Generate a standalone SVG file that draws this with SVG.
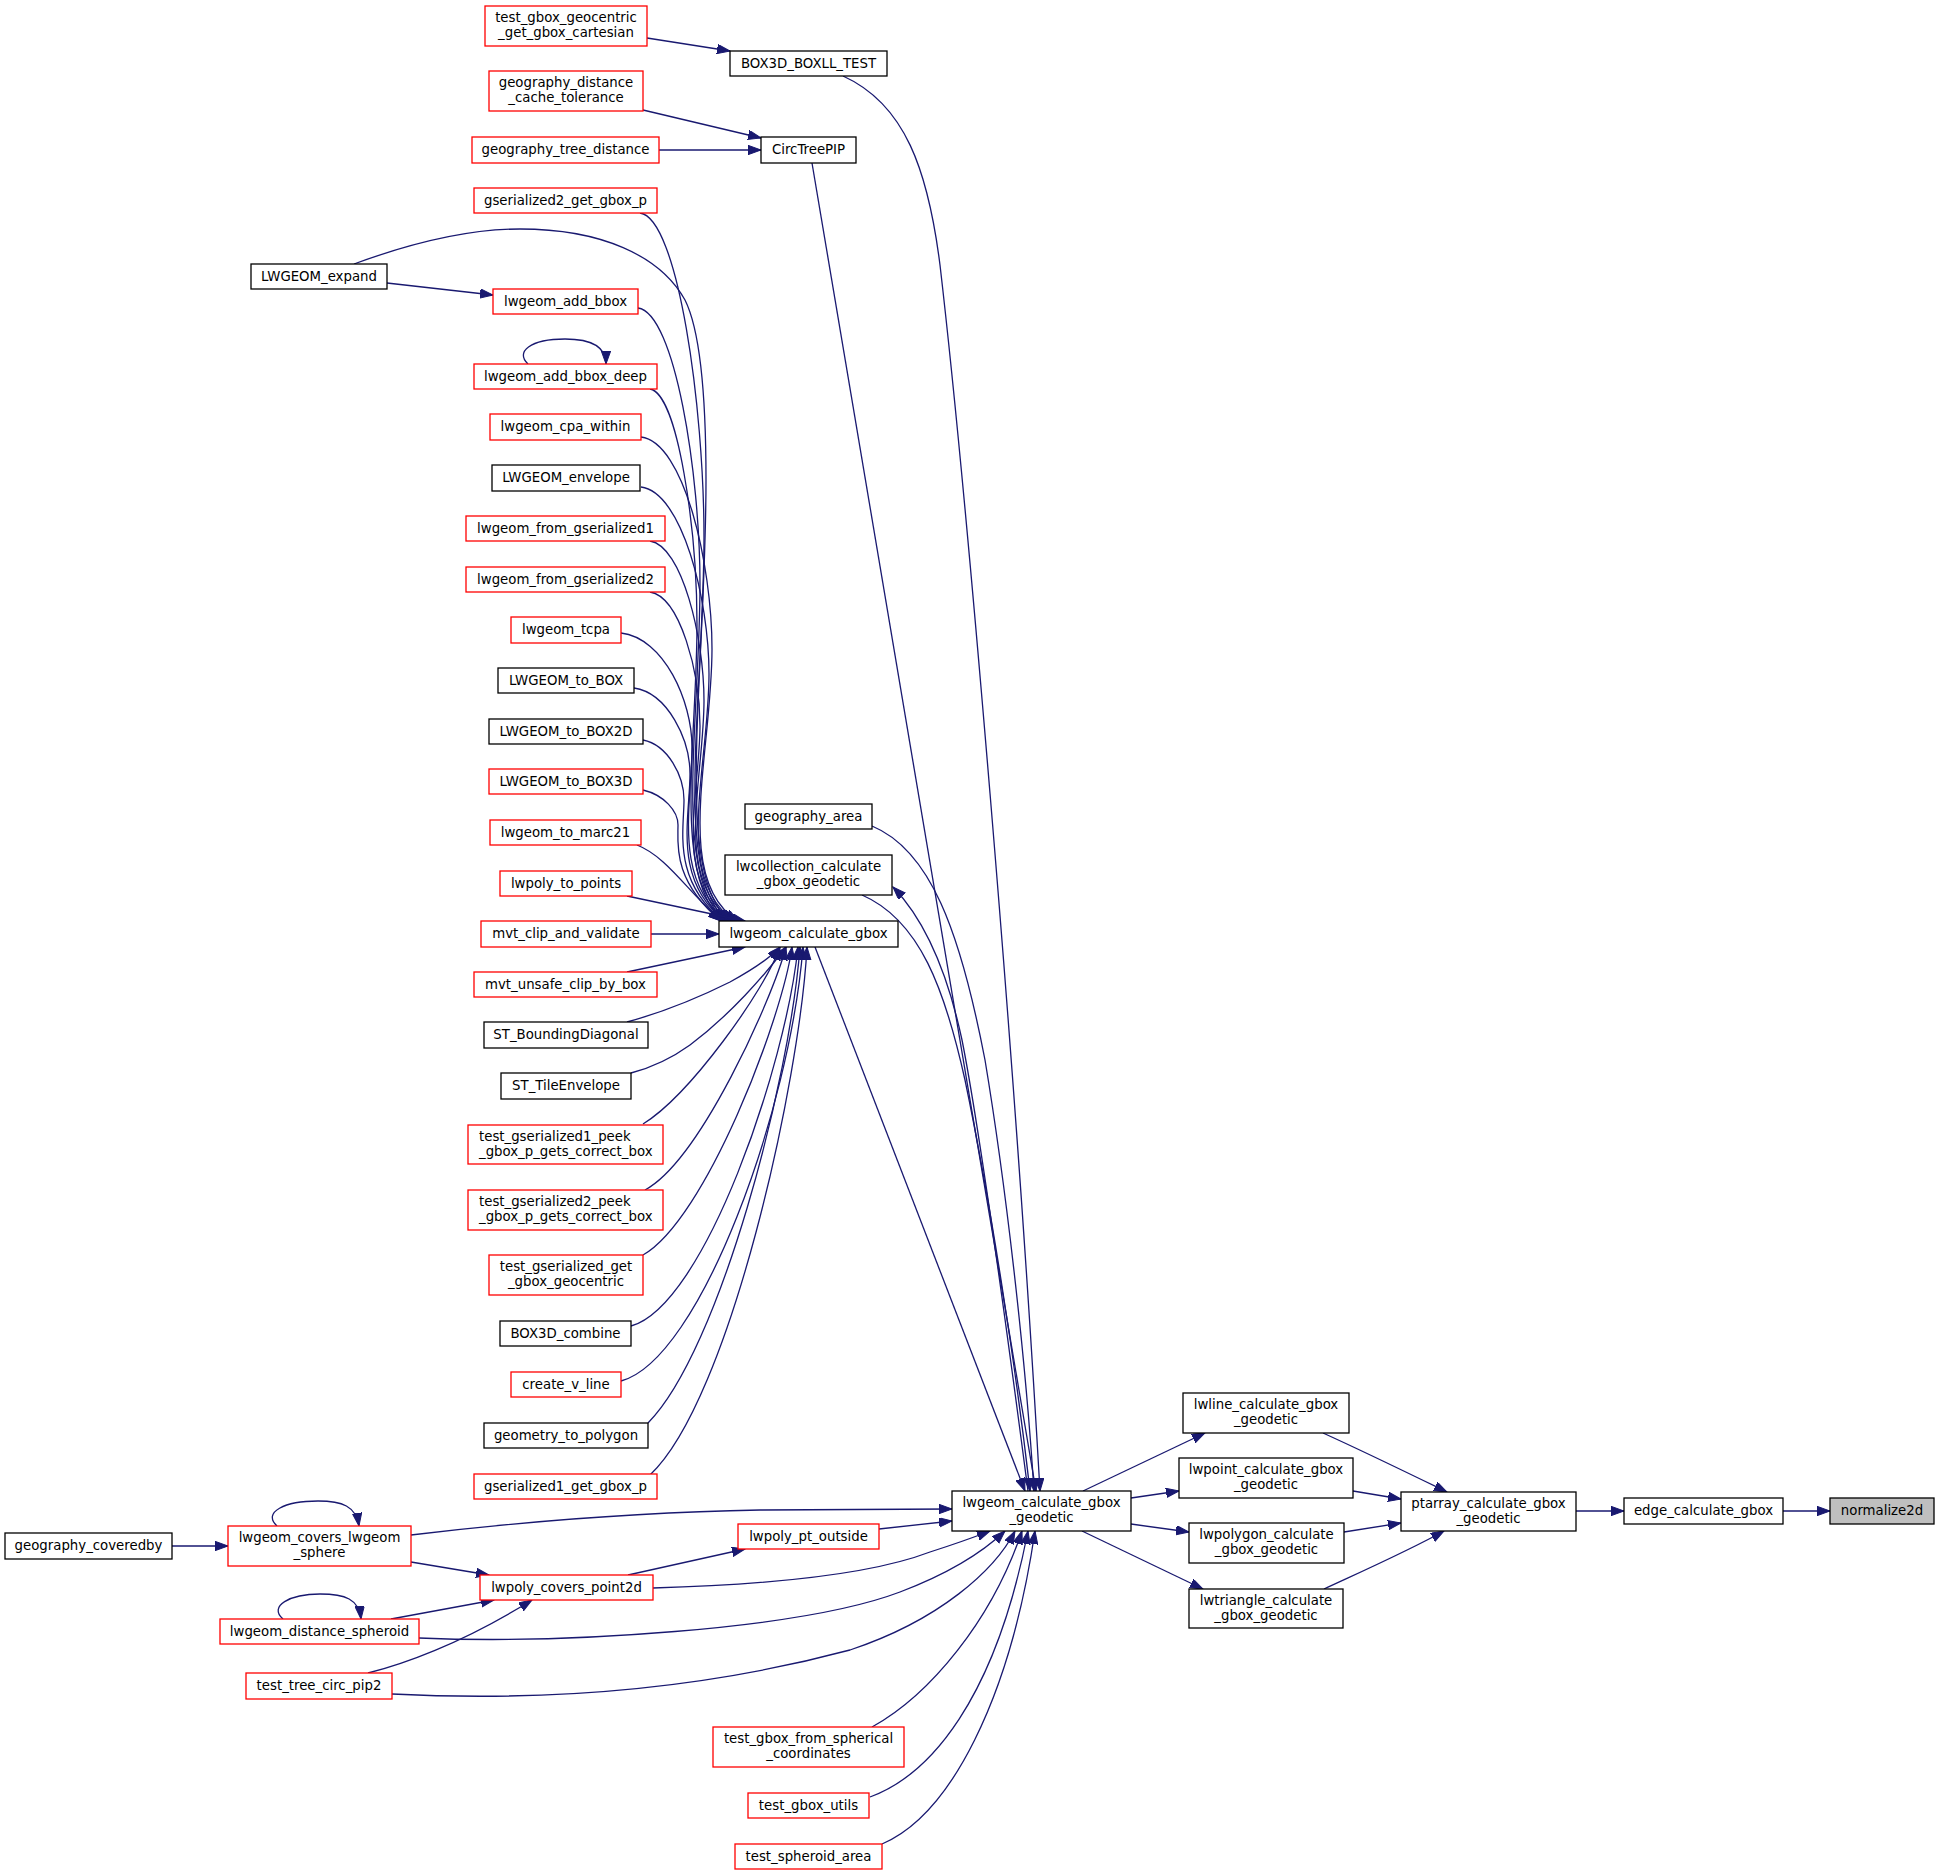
<svg xmlns="http://www.w3.org/2000/svg" width="1939" height="1875" viewBox="0 0 1939 1875">
<defs>
<marker id="a" markerUnits="userSpaceOnUse" markerWidth="14" markerHeight="10" refX="13" refY="4.7" orient="auto">
<path d="M0,0 L13,4.7 L0,9.4 z" fill="#191970" stroke="#191970" stroke-width="1"/>
</marker>
<style>
rect{fill:#fff;stroke:#000;stroke-width:1.3}
.r rect{stroke:#f00}
.g rect{fill:#bfbfbf}
text{font-family:"DejaVu Sans","Liberation Sans",sans-serif;font-size:13.3px;fill:#000;text-anchor:middle}
.e path{fill:none;stroke:#191970;stroke-width:1.3;marker-end:url(#a)}
</style>
</defs>
<rect x="0" y="0" width="1939" height="1875" style="fill:#fff;stroke:none"/>
<g class="e" id="edges">
<path d="M1783,1511 L1830,1511"/>
<path d="M1576,1511 L1624,1511"/>
<path d="M1323,1433 C1365,1452 1410,1474 1447,1492"/>
<path d="M1353,1491 L1401,1499"/>
<path d="M1344,1532 L1401,1523"/>
<path d="M1324,1589 C1365,1570 1410,1550 1444,1531"/>
<path d="M1083,1491 L1205,1433"/>
<path d="M1131,1498 L1179,1491"/>
<path d="M1131,1524 L1189,1532"/>
<path d="M1082,1531 L1203,1589"/>
<path d="M815,947 L1025,1491"/>
<path d="M812,163 L1036,1491"/>
<path d="M843,76 C905,104 928,170 940,265 C965,480 1015,1050 1040,1491"/>
<path d="M872,826 C930,850 960,930 985,1060 C1005,1180 1025,1350 1034,1491"/>
<path d="M862,895 C920,920 945,990 965,1080 C990,1200 1015,1360 1030,1491"/>
<path d="M1028,1491 C1003,1300 978,1120 962,1040 C947,970 925,920 893,887"/>
<path d="M411,1535 C520,1522 640,1512 760,1510 C840,1509 900,1509 952,1509"/>
<path d="M879,1529 L952,1521"/>
<path d="M628,1575 L745,1549"/>
<path d="M653,1588 C760,1585 870,1575 930,1552 C955,1544 972,1538 990,1531"/>
<path d="M419,1638 C560,1644 800,1630 900,1592 C950,1573 985,1550 1005,1531"/>
<path d="M392,1694 C550,1702 700,1690 850,1650 C940,1620 995,1570 1015,1531"/>
<path d="M872,1727 C930,1695 992,1620 1022,1531"/>
<path d="M870,1797 C930,1775 995,1700 1028,1531"/>
<path d="M882,1844 C950,1815 1010,1700 1035,1531"/>
<path d="M368,1673 C400,1665 460,1645 532,1600"/>
<path d="M391,1619 L494,1600"/>
<path d="M411,1562 L489,1575"/>
<path d="M172,1546 L228,1546"/>
<path d="M277,1526 C262,1512 285,1501 318,1501 C342,1501 356,1506 359,1526"/>
<path d="M283,1619 C268,1606 290,1594 320,1594 C345,1594 359,1599 361,1619"/>
<path d="M528,364 C515,352 530,339 565,339 C592,339 606,347 606,364"/>
<path d="M387,283 L493,295"/>
<path d="M647,38 L730,51"/>
<path d="M643,110 L761,138"/>
<path d="M659,150 L761,150"/>
<path d="M640,213 C678,218 704,407 704,537 C704,698 672,880 728,921"/>
<path d="M354,264 C430,236 480,229 520,229 C600,229 660,255 685,300 C700,330 706,400 706,480 C706,680 672,880 731,921"/>
<path d="M638,308 C675,313 700,474 700,584 C700,722 672,880 726,921"/>
<path d="M650,389 C678,394 697,530 697,625 C697,742 672,880 724,921"/>
<path d="M641,437 C684,442 712,564 712,649 C712,754 672,880 738,921"/>
<path d="M641,487 C682,492 709,599 709,674 C709,767 672,880 735,921"/>
<path d="M650,541 C682,546 704,637 704,701 C704,780 672,880 733,921"/>
<path d="M650,592 C680,597 700,672 700,726 C700,793 672,880 730,921"/>
<path d="M621,633 C664,638 692,701 692,747 C692,803 672,880 727,921"/>
<path d="M634,688 C668,693 690,740 690,774 C690,817 672,880 725,921"/>
<path d="M643,740 C668,745 684,776 684,800 C684,830 672,880 723,921"/>
<path d="M643,790 C664,795 678,811 678,825 C678,843 672,880 721,921"/>
<path d="M637,845 C668,857 690,895 722,921"/>
<path d="M627,896 L745,921"/>
<path d="M651,934 L719,934"/>
<path d="M627,972 L745,947"/>
<path d="M627,1022 C660,1013 700,997 730,982 C752,970 770,958 780,947"/>
<path d="M631,1073 C650,1068 672,1058 690,1045 C730,1015 765,975 786,947"/>
<path d="M643,1124 C690,1095 765,990 780,947"/>
<path d="M645,1190 C700,1160 772,1000 786,947"/>
<path d="M643,1255 C705,1220 782,1020 792,947"/>
<path d="M631,1326 C705,1305 786,1065 798,947"/>
<path d="M621,1381 C700,1360 790,1110 803,947"/>
<path d="M648,1423 C720,1350 790,1080 800,947"/>
<path d="M650,1475 C730,1400 800,1080 807,947"/>
</g>
<g id="n1" class="r"><rect x="485" y="6" width="162" height="40"/><text x="566" y="22">test_gbox_geocentric</text><text x="566" y="37">_get_gbox_cartesian</text></g>
<g id="n2"><rect x="730" y="51" width="157" height="25"/><text x="808.5" y="68">BOX3D_BOXLL_TEST</text></g>
<g id="n3" class="r"><rect x="489" y="71" width="154" height="40"/><text x="566" y="87">geography_distance</text><text x="566" y="102">_cache_tolerance</text></g>
<g id="n4" class="r"><rect x="472" y="137" width="187" height="26"/><text x="565.5" y="154">geography_tree_distance</text></g>
<g id="n5"><rect x="761" y="137" width="95" height="26"/><text x="808.5" y="154">CircTreePIP</text></g>
<g id="n6" class="r"><rect x="474" y="188" width="183" height="25"/><text x="565.5" y="205">gserialized2_get_gbox_p</text></g>
<g id="n7"><rect x="251" y="264" width="136" height="25"/><text x="319" y="281">LWGEOM_expand</text></g>
<g id="n8" class="r"><rect x="493" y="289" width="145" height="25"/><text x="565.5" y="306">lwgeom_add_bbox</text></g>
<g id="n9" class="r"><rect x="474" y="364" width="183" height="25"/><text x="565.5" y="381">lwgeom_add_bbox_deep</text></g>
<g id="n10" class="r"><rect x="490" y="414" width="151" height="26"/><text x="565.5" y="431">lwgeom_cpa_within</text></g>
<g id="n11"><rect x="492" y="465" width="148" height="26"/><text x="566" y="482">LWGEOM_envelope</text></g>
<g id="n12" class="r"><rect x="466" y="516" width="199" height="25"/><text x="565.5" y="533">lwgeom_from_gserialized1</text></g>
<g id="n13" class="r"><rect x="466" y="567" width="199" height="25"/><text x="565.5" y="584">lwgeom_from_gserialized2</text></g>
<g id="n14" class="r"><rect x="511" y="617" width="110" height="26"/><text x="566" y="634">lwgeom_tcpa</text></g>
<g id="n15"><rect x="498" y="668" width="136" height="25"/><text x="566" y="685">LWGEOM_to_BOX</text></g>
<g id="n16"><rect x="489" y="719" width="154" height="25"/><text x="566" y="736">LWGEOM_to_BOX2D</text></g>
<g id="n17" class="r"><rect x="489" y="769" width="154" height="25"/><text x="566" y="786">LWGEOM_to_BOX3D</text></g>
<g id="n18" class="r"><rect x="490" y="820" width="151" height="25"/><text x="565.5" y="837">lwgeom_to_marc21</text></g>
<g id="n19" class="r"><rect x="500" y="871" width="132" height="25"/><text x="566" y="888">lwpoly_to_points</text></g>
<g id="n20" class="r"><rect x="481" y="921" width="170" height="26"/><text x="566" y="938">mvt_clip_and_validate</text></g>
<g id="n21" class="r"><rect x="474" y="972" width="183" height="25"/><text x="565.5" y="989">mvt_unsafe_clip_by_box</text></g>
<g id="n22"><rect x="484" y="1022" width="164" height="26"/><text x="566" y="1039">ST_BoundingDiagonal</text></g>
<g id="n23"><rect x="501" y="1073" width="130" height="26"/><text x="566" y="1090">ST_TileEnvelope</text></g>
<g id="n24" class="r"><rect x="468" y="1125" width="195" height="39"/><text x="479" y="1141" style="text-anchor:start">test_gserialized1_peek</text><text x="479" y="1156" style="text-anchor:start">_gbox_p_gets_correct_box</text></g>
<g id="n25" class="r"><rect x="468" y="1190" width="195" height="40"/><text x="479" y="1206" style="text-anchor:start">test_gserialized2_peek</text><text x="479" y="1221" style="text-anchor:start">_gbox_p_gets_correct_box</text></g>
<g id="n26" class="r"><rect x="489" y="1255" width="154" height="40"/><text x="566" y="1271">test_gserialized_get</text><text x="566" y="1286">_gbox_geocentric</text></g>
<g id="n27"><rect x="500" y="1321" width="131" height="25"/><text x="565.5" y="1338">BOX3D_combine</text></g>
<g id="n28" class="r"><rect x="511" y="1372" width="110" height="25"/><text x="566" y="1389">create_v_line</text></g>
<g id="n29"><rect x="484" y="1423" width="164" height="25"/><text x="566" y="1440">geometry_to_polygon</text></g>
<g id="n30" class="r"><rect x="474" y="1474" width="183" height="25"/><text x="565.5" y="1491">gserialized1_get_gbox_p</text></g>
<g id="n31"><rect x="745" y="804" width="127" height="25"/><text x="808.5" y="821">geography_area</text></g>
<g id="n32"><rect x="725" y="855" width="167" height="40"/><text x="808.5" y="871">lwcollection_calculate</text><text x="808.5" y="886">_gbox_geodetic</text></g>
<g id="n33"><rect x="719" y="921" width="179" height="26"/><text x="808.5" y="938">lwgeom_calculate_gbox</text></g>
<g id="n34"><rect x="5" y="1533" width="167" height="26"/><text x="88.5" y="1550">geography_coveredby</text></g>
<g id="n35" class="r"><rect x="228" y="1526" width="183" height="40"/><text x="319.5" y="1542">lwgeom_covers_lwgeom</text><text x="319.5" y="1557">_sphere</text></g>
<g id="n36" class="r"><rect x="738" y="1524" width="141" height="25"/><text x="808.5" y="1541">lwpoly_pt_outside</text></g>
<g id="n37" class="r"><rect x="480" y="1575" width="173" height="25"/><text x="566.5" y="1592">lwpoly_covers_point2d</text></g>
<g id="n38" class="r"><rect x="220" y="1619" width="199" height="25"/><text x="319.5" y="1636">lwgeom_distance_spheroid</text></g>
<g id="n39" class="r"><rect x="246" y="1673" width="146" height="26"/><text x="319" y="1690">test_tree_circ_pip2</text></g>
<g id="n40" class="r"><rect x="713" y="1727" width="191" height="40"/><text x="808.5" y="1743">test_gbox_from_spherical</text><text x="808.5" y="1758">_coordinates</text></g>
<g id="n41" class="r"><rect x="748" y="1793" width="121" height="25"/><text x="808.5" y="1810">test_gbox_utils</text></g>
<g id="n42" class="r"><rect x="735" y="1844" width="147" height="25"/><text x="808.5" y="1861">test_spheroid_area</text></g>
<g id="n43"><rect x="952" y="1491" width="179" height="40"/><text x="1041.5" y="1507">lwgeom_calculate_gbox</text><text x="1041.5" y="1522">_geodetic</text></g>
<g id="n44"><rect x="1183" y="1393" width="166" height="40"/><text x="1266" y="1409">lwline_calculate_gbox</text><text x="1266" y="1424">_geodetic</text></g>
<g id="n45"><rect x="1179" y="1458" width="174" height="40"/><text x="1266" y="1474">lwpoint_calculate_gbox</text><text x="1266" y="1489">_geodetic</text></g>
<g id="n46"><rect x="1189" y="1523" width="155" height="40"/><text x="1266.5" y="1539">lwpolygon_calculate</text><text x="1266.5" y="1554">_gbox_geodetic</text></g>
<g id="n47"><rect x="1189" y="1589" width="154" height="39"/><text x="1266" y="1605">lwtriangle_calculate</text><text x="1266" y="1620">_gbox_geodetic</text></g>
<g id="n48"><rect x="1401" y="1492" width="175" height="39"/><text x="1488.5" y="1508">ptarray_calculate_gbox</text><text x="1488.5" y="1523">_geodetic</text></g>
<g id="n49"><rect x="1624" y="1498" width="159" height="26"/><text x="1703.5" y="1515">edge_calculate_gbox</text></g>
<g id="n50" class="g"><rect x="1830" y="1498" width="104" height="26"/><text x="1882" y="1515">normalize2d</text></g>
</svg>
